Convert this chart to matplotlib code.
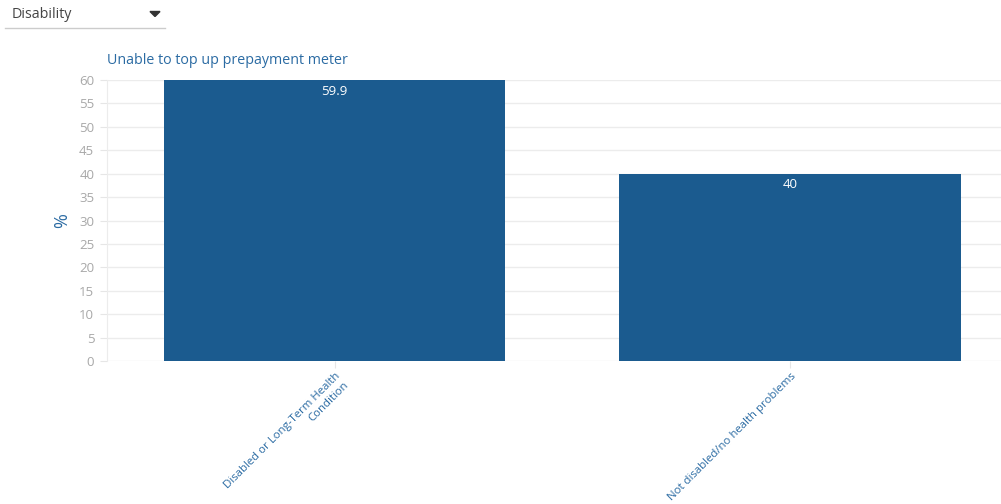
import matplotlib
matplotlib.use('Agg')
from matplotlib import pyplot as plt
from matplotlib.lines import Line2D
from matplotlib.patches import Polygon

categories = ['Disabled or Long-Term Health\nCondition', 'Not disabled/no health problems']
values = [59.9, 40]
value_labels = ['59.9', '40']
y_ticks = list(range(0, 65, 5))

BAR = '#1b5b8f'
BLUE = '#2b6ba3'
GREY = '#a8a8a8'

plt.rcParams['font.family'] = ['Open Sans', 'DejaVu Sans']

fig = plt.figure(figsize=(10.01, 5.04), dpi=100)
W, H = 1001, 504
# plot area runs a little past the right edge of the figure
ax = fig.add_axes([106.75 / W, (H - 361) / H, 911.25 / W, 281 / H])

x = list(range(len(categories)))
ax.bar(x, values, width=0.75, color=BAR, zorder=3)
for xi, v, lab in zip(x, values, value_labels):
    ax.annotate(lab, (xi, v), xytext=(0, -3), textcoords='offset points',
                ha='center', va='top', color='white', fontsize=9.5, zorder=4)

ax.set_xlim(-0.5, 1.5)
ax.set_ylim(0, 60)
ax.set_yticks(y_ticks)
ax.set_yticklabels([str(t) for t in y_ticks], color=GREY, fontsize=9.5)
ax.grid(axis='y', color='#ececec', linewidth=1, zorder=0)
ax.tick_params(axis='y', length=5, color='#e6e6e6', pad=4)
ax.tick_params(axis='x', length=5, color='#e6e6e6', pad=2)
for s in ['top', 'right', 'bottom']:
    ax.spines[s].set_visible(False)
ax.spines['left'].set_color('#ececec')

ax.set_xticks(x)
ax.set_xticklabels(categories, rotation=45, ha='right', rotation_mode='anchor',
                   multialignment='right', color=BLUE, fontsize=8.2)

ax.set_ylabel('%', color=BLUE, fontsize=13, labelpad=6)
fig.text(107 / W, 1 - 60 / H, 'Unable to top up prepayment meter', color=BLUE,
         fontsize=10.3, ha='left', va='center')

# dropdown selector above the chart
fig.text(12 / W, 1 - 14 / H, 'Disability', color='#444444', fontsize=10.3,
         ha='left', va='center')
fig.add_artist(Line2D([5 / W, 165 / W], [1 - 27.5 / H, 1 - 27.5 / H],
                      color='#cccccc', linewidth=1))
fig.add_artist(Polygon([[150 / W, 1 - 11.5 / H], [160 / W, 1 - 11.5 / H], [155 / W, 1 - 16.5 / H]],
                       closed=True, color='#333333', transform=fig.transFigure))

plt.savefig('out.png', dpi=100)
plt.close(fig)
